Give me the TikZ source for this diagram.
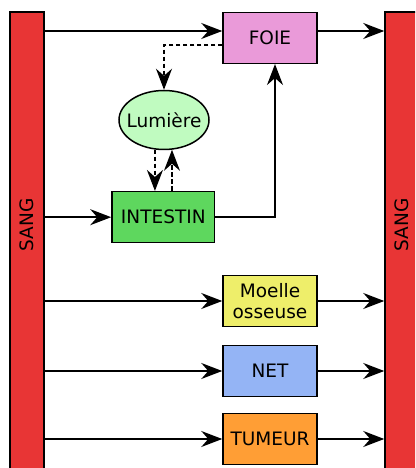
\documentclass[tikz,border=0pt]{standalone}
\usepackage{fontspec}
\setmainfont{DejaVu Sans}
\usetikzlibrary{arrows.meta,shapes.geometric,calc}
\definecolor{bar}{HTML}{E83535}
\definecolor{foie}{HTML}{EA9AD9}
\definecolor{lum}{HTML}{C0FBC0}
\definecolor{intes}{HTML}{5ED75E}
\definecolor{moel}{HTML}{EEEE6A}
\definecolor{netc}{HTML}{94B4F5}
\definecolor{tum}{HTML}{FF9E35}
\tikzset{
  organ/.style={draw=black, line width=1.5pt, rectangle, inner sep=0pt, minimum width=94pt, minimum height=51pt, font=\fontsize{18.5}{20.5}\selectfont, align=center},
  sangbar/.style={draw=black, line width=1.5pt, fill=bar, rectangle, inner sep=0pt, minimum width=34pt, minimum height=470pt},
  tipst/.tip={Stealth[length=21pt,width=16pt,inset=7pt]},
  arr/.style={line width=1.5pt, -tipst},
  dsh/.style={arr, dash pattern=on 4.5pt off 2.5pt},
  lbl/.style={font=\fontsize{18.5}{20.5}\selectfont, rotate=90}
}
\begin{document}
\begin{tikzpicture}[x=1pt,y=1pt]
\useasboundingbox (0,0) rectangle (415,468);
\clip (0,0) rectangle (415,468);
\node[sangbar] (L) at (27,221) {};
\node[sangbar] (R) at (402,221) {};
\node[lbl] (SL) at (27,243) {SANG};
\node[lbl] (SR) at (402,243) {SANG};
\node[organ, fill=foie] (F) at (270,430.2) {FOIE};
\node[draw=black, line width=1.5pt, ellipse, fill=lum, inner xsep=-7pt, inner ysep=0pt, minimum width=90pt, minimum height=59pt, font=\fontsize{18.5}{20.5}\selectfont] (Lu) at (164,348) {Lumière};
\node[organ, fill=intes, minimum width=102.7pt] (I) at (163.3,250.8) {INTESTIN};
\node[organ, fill=moel] (M) at (270,167) {Moelle\\osseuse};
\node[organ, fill=netc] (N) at (270,97) {NET};
\node[organ, fill=tum] (T) at (270,29) {TUMEUR};
\coordinate (fin) at ([yshift=6.8pt]F.west);
\coordinate (fout) at ([yshift=6.8pt]F.east);
\coordinate (fd) at ([yshift=-7pt]F.west);
\draw[arr] (L.east |- fin) -- (fin);
\draw[arr] (fout) -- (R.west |- fout);
\draw[dsh] (fd) -| (Lu.north);
\draw[dsh] (Lu.253) -- (Lu.253 |- I.north);
\draw[dsh] (Lu.285 |- I.north) -- (Lu.285);
\draw[arr] (L.east |- I.west) -- (I.west);
\draw[arr] (I.east) -| ([xshift=5pt]F.south);
\draw[arr] (L.east |- M.west) -- (M.west);
\draw[arr] (M.east) -- (R.west |- M.east);
\draw[arr] (L.east |- N.west) -- (N.west);
\draw[arr] (N.east) -- (R.west |- N.east);
\draw[arr] (L.east |- T.west) -- (T.west);
\draw[arr] (T.east) -- (R.west |- T.east);
\end{tikzpicture}
\end{document}
